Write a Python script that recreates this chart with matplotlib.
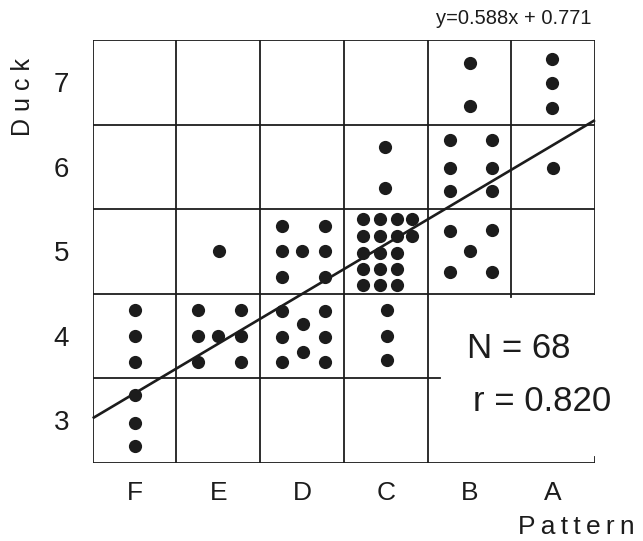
import matplotlib
matplotlib.use("Agg")
import matplotlib.pyplot as plt

# ---- data ----
patterns = ["F", "E", "D", "C", "B", "A"]          # x categories 1..6
duck_ticks = [3, 4, 5, 6, 7]

# dot positions (column units, duck units) as drawn, jitter inside each cell
F_x = [1.01, 1.01, 1.01, 1.01, 1.01, 1.01]
F_y = [4.30, 4.00, 3.69, 3.30, 2.97, 2.70]

E_x = [1.76, 2.27, 1.76, 2.00, 2.27, 1.76, 2.27, 2.01]
E_y = [4.30, 4.30, 4.00, 4.00, 4.00, 3.69, 3.69, 5.00]

D_x = [2.76, 3.27, 3.01, 2.76, 3.27, 3.01, 2.76, 3.27,
       2.76, 3.27, 2.76, 3.00, 3.27, 2.76, 3.27]
D_y = [4.29, 4.29, 4.14, 3.98, 3.98, 3.81, 3.69, 3.69,
       5.30, 5.30, 5.00, 5.00, 5.00, 4.70, 4.70]

C_x = [3.99, 3.99,
       3.73, 3.93, 4.13, 4.32,
       3.73, 3.93, 4.13, 4.32,
       3.73, 3.93, 4.13,
       3.73, 3.93, 4.13,
       3.73, 3.93, 4.13,
       4.01, 4.01, 4.01]
C_y = [6.23, 5.75,
       5.38, 5.38, 5.38, 5.38,
       5.18, 5.18, 5.18, 5.18,
       4.98, 4.98, 4.98,
       4.79, 4.79, 4.79,
       4.60, 4.60, 4.60,
       4.30, 4.00, 3.71]

B_x = [4.77, 5.27, 4.77, 5.27, 4.77, 5.27,
       4.77, 5.27, 5.01, 4.77, 5.27,
       5.01, 5.01]
B_y = [6.32, 6.32, 5.99, 5.99, 5.71, 5.71,
       5.24, 5.25, 5.00, 4.75, 4.75,
       7.23, 6.72]

A_x = [5.99, 5.99, 5.99, 6.00]
A_y = [7.27, 6.99, 6.69, 5.99]

line_slope = 0.588
line_intercept = 2.73
n_text = "N = 68"
r_text = "r = 0.820"
eq_text = "y=0.588x + 0.771"

# ---- figure ----
fig = plt.figure(figsize=(6.43, 5.41), dpi=100)
fig.patch.set_facecolor("white")
ax = fig.add_axes([92.7 / 643, (541 - 462.5) / 541, (595 - 92.7) / 643, (462.5 - 40) / 541])
ax.set_xlim(0.5, 6.5)
ax.set_ylim(2.5, 7.5)
for s in ax.spines.values():
    s.set_visible(False)

ink = "#1c1c1c"
lw = 1.3
font = "Liberation Sans"

# grid / frame
ax.plot([0.5, 6.5], [7.5, 7.5], color=ink, lw=lw)
ax.plot([0.5, 6.5], [2.5, 2.5], color=ink, lw=lw)
ax.plot([0.5, 0.5], [2.5, 7.5], color=ink, lw=lw)
ax.plot([6.5, 6.5], [4.5, 7.5], color=ink, lw=lw)
ax.plot([6.5, 6.5], [2.5, 2.57], color=ink, lw=lw)
for yv in [6.5, 5.5, 4.5]:
    ax.plot([0.5, 6.5], [yv, yv], color=ink, lw=lw)
ax.plot([0.5, 4.65], [3.5, 3.5], color=ink, lw=lw)
for xv in [1.5, 2.5, 3.5, 4.5]:
    ax.plot([xv, xv], [2.5, 7.5], color=ink, lw=lw)
ax.plot([5.5, 5.5], [4.46, 7.5], color=ink, lw=lw)

# dots
for xs, ys in [(F_x, F_y), (E_x, E_y), (D_x, D_y), (C_x, C_y), (B_x, B_y), (A_x, A_y)]:
    ax.plot(xs, ys, "o", color=ink, markersize=9.5, markeredgewidth=0)

# regression line
lx = [0.5, 6.5]
ly = [line_slope * v + line_intercept for v in lx]
ax.plot(lx, ly, color=ink, lw=1.9, solid_capstyle="butt", clip_on=False)

# ticks
ax.set_xticks(range(1, 7))
ax.set_xticklabels(patterns, fontsize=19, family=font, color=ink)
ax.set_yticks(duck_ticks)
ax.set_yticklabels([str(v) for v in duck_ticks], fontsize=20, family=font, color=ink)
ax.tick_params(axis="both", length=0)
ax.tick_params(axis="x", pad=13)
ax.tick_params(axis="y", pad=17)

# axis titles
fig.text(23 / 643, 1 - 97 / 541, "D u c k", rotation=90, ha="center", va="center",
         fontsize=18, family=font, color=ink)
fig.text(576 / 643, 1 - 527 / 541, "P a t t e r n".replace(" ", "\u2009"), ha="center", va="center",
         fontsize=19, family=[font, "DejaVu Sans"], color=ink)

# annotations
ax.text(4.97, 3.85, n_text, fontsize=25, family=font, color=ink, ha="left", va="center")
ax.text(5.04, 3.22, r_text, fontsize=25, family=font, color=ink, ha="left", va="center")
fig.text(592 / 643, 1 - 18 / 541, eq_text, ha="right", va="center",
         fontsize=14.5, family=font, color=ink)

fig.savefig("out.png", dpi=100, facecolor="white")
